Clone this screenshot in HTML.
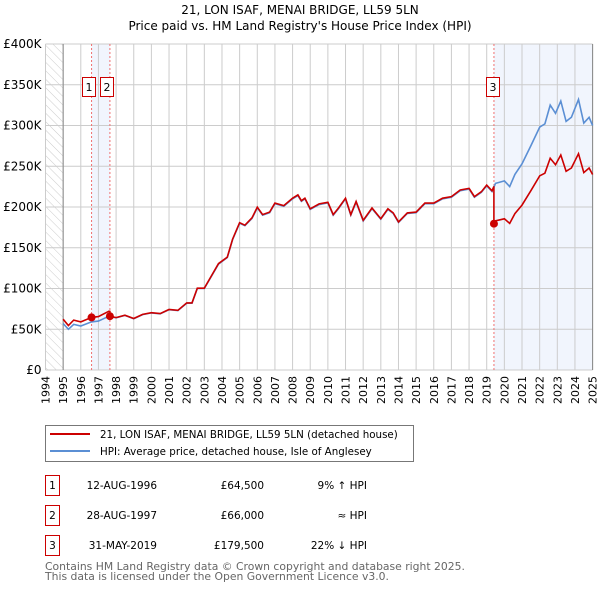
<!DOCTYPE html>
<html><head><meta charset="utf-8"><style>
body{margin:0;background:#fff;font-family:"DejaVu Sans","Liberation Sans",sans-serif;}
svg text{font-family:"DejaVu Sans","Liberation Sans",sans-serif;}
</style></head><body>
<svg id="c" width="600" height="590" viewBox="0 0 600 590" xmlns="http://www.w3.org/2000/svg">
<defs><pattern id="hatch" width="6" height="6" patternUnits="userSpaceOnUse" patternTransform="rotate(-45)"><line x1="0" y1="0" x2="0" y2="6" stroke="#ccc" stroke-width="1"/></pattern></defs>
<text x="300" y="14" text-anchor="middle" font-size="12">21, LON ISAF, MENAI BRIDGE, LL59 5LN</text>
<text x="300" y="30" text-anchor="middle" font-size="12">Price paid vs. HM Land Registry's House Price Index (HPI)</text>
<g id="plot"></g>
<g>
<rect x="45.5" y="425.5" width="368" height="36" fill="#fff" stroke="#777"/>
<line x1="50" y1="434" x2="90" y2="434" stroke="#cc0000" stroke-width="2"/>
<text x="100" y="438" font-size="10.3">21, LON ISAF, MENAI BRIDGE, LL59 5LN (detached house)</text>
<line x1="50" y1="451" x2="90" y2="451" stroke="#5b8fd4" stroke-width="2"/>
<text x="100" y="455" font-size="10.3">HPI: Average price, detached house, Isle of Anglesey</text>
</g>
<g id="table" font-size="10.5"></g>
<text x="45" y="570" font-size="10.8" fill="#666">Contains HM Land Registry data © Crown copyright and database right 2025.</text>
<text x="45" y="580" font-size="10.8" fill="#666">This data is licensed under the Open Government Licence v3.0.</text>
</svg>
<script>
const hpiYears=[1995.0,1995.3,1995.6,1996.0,1996.6,1997.0,1997.6,1998.0,1998.5,1999.0,1999.5,2000.0,2000.5,2001.0,2001.5,2002.0,2002.3,2002.6,2003.0,2003.4,2003.8,2004.3,2004.6,2005.0,2005.3,2005.7,2006.0,2006.3,2006.7,2007.0,2007.5,2008.0,2008.3,2008.5,2008.7,2009.0,2009.5,2010.0,2010.3,2010.6,2011.0,2011.3,2011.6,2012.0,2012.5,2013.0,2013.4,2013.7,2014.0,2014.5,2015.0,2015.5,2016.0,2016.5,2017.0,2017.5,2018.0,2018.3,2018.7,2019.0,2019.3,2019.5,2020.0,2020.3,2020.6,2021.0,2021.5,2022.0,2022.3,2022.6,2022.9,2023.2,2023.5,2023.8,2024.2,2024.5,2024.8,2025.0];
const hpiValues=[57,50,56,54,59,60,66,64,67,63,68,70,69,74,73,82,82,100,100,115,130,138,160,180,177,186,199,190,193,204,201,210,214,207,210,197,203,205,190,198,210,190,206,183,198,185,197,192,181,192,193,204,204,210,212,220,222,212,218,226,219,229,232,225,240,253,275,298,302,325,315,330,305,310,332,303,310,300];
const saleYears=[1996.61,1997.65,2019.41];
const salePrices=[64500,66000,179500];
const saleLabels=["1","2","3"];
const saleDates=["12-AUG-1996","28-AUG-1997","31-MAY-2019"];
const salePriceText=["£64,500","£66,000","£179,500"];
const saleHpiText=["9% ↑ HPI","≈ HPI","22% ↓ HPI"];
const yTicks=[0,50000,100000,150000,200000,250000,300000,350000,400000];
const yTickLabels=["£0","£50K","£100K","£150K","£200K","£250K","£300K","£350K","£400K"];
const xStart=1994,xEnd=2025;
const NS="http://www.w3.org/2000/svg";
const L=45.5,R=592.6,T=44,B=370;
const X=y=>L+(y-xStart)/(xEnd-xStart)*(R-L);
const Y=v=>B-v/400000*(B-T);
const plot=document.getElementById('plot');
function mk(tag,attrs,parent){const e=document.createElementNS(NS,tag);for(const k in attrs)e.setAttribute(k,attrs[k]);(parent||plot).appendChild(e);return e;}
function hpiAt(t){if(t<=hpiYears[0])return hpiValues[0];for(let i=1;i<hpiYears.length;i++){if(t<=hpiYears[i]){const f=(t-hpiYears[i-1])/(hpiYears[i]-hpiYears[i-1]);return hpiValues[i-1]+f*(hpiValues[i]-hpiValues[i-1]);}}return hpiValues[hpiValues.length-1];}
let e=mk('rect',{x:L,y:T,width:X(1995)-L,height:B-T,fill:'url(#hatch)'});

e=mk('rect',{x:X(saleYears[0]),y:T,width:X(saleYears[1])-X(saleYears[0]),height:B-T,fill:'#eef3fc',opacity:0.8});

e=mk('rect',{x:X(saleYears[2]),y:T,width:R-X(saleYears[2]),height:B-T,fill:'#eef3fc',opacity:0.8});

for(let yr=xStart;yr<=xEnd;yr++){
  e=mk('line',{x1:X(yr),x2:X(yr),y1:T,y2:B,stroke:'#ccc','stroke-width':1});
  
  e=mk('text',{x:0,y:0,'font-size':11,'text-anchor':'end',transform:`translate(${X(yr)+4},${B+6}) rotate(-90)`});
  e.textContent=yr;
  
}
yTicks.forEach((v,i)=>{
  e=mk('line',{x1:L,x2:R,y1:Y(v),y2:Y(v),stroke:'#ccc','stroke-width':1});
  
  e=mk('text',{x:L-4,y:Y(v)+4,'font-size':12,'text-anchor':'end'});
  e.textContent=yTickLabels[i];
  
});
e=mk('line',{x1:X(1995),x2:X(1995),y1:T,y2:B,stroke:'#888'});

e=mk('line',{x1:R,x2:R,y1:T,y2:B,stroke:'#888'});

saleYears.forEach((s,i)=>{
  e=mk('line',{x1:X(s),x2:X(s),y1:T,y2:B,stroke:'#f07070','stroke-dasharray':'2,2'});
  
});
let d=hpiYears.map((t,i)=>(i?'L':'M')+X(t).toFixed(1)+','+Y(hpiValues[i]*1000).toFixed(1)).join(' ');
e=mk('path',{d:d,fill:'none',stroke:'#5b8fd4','stroke-width':1.6});

function propAt(t){let k=-1;for(let i=0;i<saleYears.length;i++)if(t>=saleYears[i])k=i;if(k<0)k=0;return salePrices[k]*hpiAt(t)/hpiAt(saleYears[k]);}
let pts=[];
hpiYears.forEach((t,i)=>{saleYears.forEach(s=>{if(s>(i?hpiYears[i-1]:0)&&s<=t){pts.push([s-0.001,propAt(s-0.001)]);pts.push([s,propAt(s)]);}});pts.push([t,propAt(t)]);});
pts.sort((a,b)=>a[0]-b[0]);
d=pts.map((p,i)=>(i?'L':'M')+X(p[0]).toFixed(1)+','+Y(p[1]).toFixed(1)).join(' ');
e=mk('path',{d:d,fill:'none',stroke:'#cc0000','stroke-width':1.6});

saleYears.forEach((s,i)=>{
  e=mk('circle',{cx:X(s),cy:Y(salePrices[i]),r:4,fill:'#cc0000'});
  
  const bx=i===0?X(s)-10:(i===1?X(s)-10:X(s)-8);
  const g=mk('g',{});
  
  mk('rect',{x:Math.round(bx)+0.5,y:77.5,width:13,height:19,fill:'#fff',stroke:'#cc0000'},g);
  const t=mk('text',{x:Math.round(bx)+7,y:91,'font-size':11,'text-anchor':'middle'},g);
  t.textContent=saleLabels[i];
});
const tb=document.getElementById('table');
saleLabels.forEach((lb,i)=>{
  const y0=475+i*30;
  const g=mk('g',{},tb);
  
  mk('rect',{x:45.5,y:y0+0.5,width:14,height:20,fill:'#fff',stroke:'#cc0000'},g);
  let t=mk('text',{x:52.5,y:y0+14,'text-anchor':'middle'},g);t.textContent=lb;
  t=mk('text',{x:157,y:y0+14,'text-anchor':'end'},g);t.textContent=saleDates[i];
  t=mk('text',{x:264,y:y0+14,'text-anchor':'end'},g);t.textContent=salePriceText[i];
  t=mk('text',{x:367,y:y0+14,'text-anchor':'end'},g);t.textContent=saleHpiText[i];
});
</script>
</body></html>
